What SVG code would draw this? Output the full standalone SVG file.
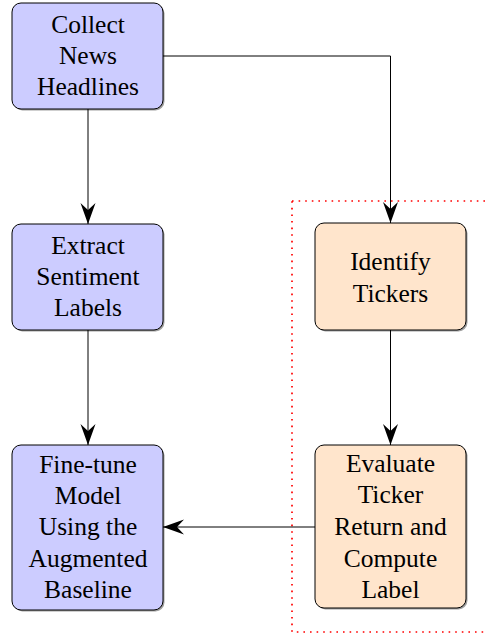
<svg xmlns="http://www.w3.org/2000/svg" width="487" height="638" viewBox="0 0 487 638">
  <style>
    .box { stroke: #000; stroke-width: 1; }
    .blue { fill: #ccccff; }
    .orange { fill: #ffe5cc; }
    .shadow { fill: #777; opacity: 0.7; }
    text { font-family: 'Times New Roman', Times, 'Liberation Serif', 'DejaVu Serif', 'Noto Serif', serif; font-size: 25.5px; fill: #000; text-anchor: middle; }
    .edge { fill: none; stroke: #000; stroke-width: 1; }
    .group { fill: none; stroke: #ff0000; stroke-width: 1.7; stroke-dasharray: 1.6 5; }
  </style>
  <defs>
    <marker id="arr" markerUnits="userSpaceOnUse" markerWidth="24" markerHeight="18" viewBox="-22 -9 24 18" refX="0" refY="0" orient="auto">
      <path d="M0,0 L-21,-7.5 L-14,0 L-21,7.5 Z" fill="#000"/>
    </marker>
  </defs>

  <rect class="group" x="292" y="201" width="220" height="431"/>

  <g id="collect">
    <rect class="shadow" x="13.5" y="4.5" width="151" height="106" rx="9"/>
    <rect class="box blue" x="12" y="3" width="151" height="106" rx="9"/>
    <text x="88" y="33">Collect</text>
    <text x="88" y="64">News</text>
    <text x="88" y="95">Headlines</text>
  </g>

  <g id="extract">
    <rect class="shadow" x="13.5" y="225.5" width="151" height="106" rx="9"/>
    <rect class="box blue" x="12" y="224" width="151" height="106" rx="9"/>
    <text x="88" y="254">Extract</text>
    <text x="88" y="285">Sentiment</text>
    <text x="88" y="316">Labels</text>
  </g>

  <g id="finetune">
    <rect class="shadow" x="13.5" y="446.5" width="151" height="165" rx="9"/>
    <rect class="box blue" x="12" y="445" width="151" height="165" rx="9"/>
    <text x="88" y="473">Fine-tune</text>
    <text x="88" y="504">Model</text>
    <text x="88" y="535">Using the</text>
    <text x="88" y="567">Augmented</text>
    <text x="88" y="598">Baseline</text>
  </g>

  <g id="identify">
    <rect class="shadow" x="316.5" y="224.5" width="151" height="107" rx="9"/>
    <rect class="box orange" x="315" y="223" width="151" height="107" rx="9"/>
    <text x="390.5" y="270">Identify</text>
    <text x="390.5" y="302">Tickers</text>
  </g>

  <g id="evaluate">
    <rect class="shadow" x="316.5" y="446.5" width="151" height="163" rx="9"/>
    <rect class="box orange" x="315" y="445" width="151" height="163" rx="9"/>
    <text x="390.5" y="472">Evaluate</text>
    <text x="390.5" y="503">Ticker</text>
    <text x="390.5" y="535">Return and</text>
    <text x="390.5" y="567">Compute</text>
    <text x="390.5" y="598">Label</text>
  </g>

  <g id="connectors">
    <path class="edge" d="M88,109 L88,224" marker-end="url(#arr)"/>
    <path class="edge" d="M163,56 L390.5,56 L390.5,223" marker-end="url(#arr)"/>
    <path class="edge" d="M88,330 L88,445" marker-end="url(#arr)"/>
    <path class="edge" d="M390.5,330 L390.5,445" marker-end="url(#arr)"/>
    <path class="edge" d="M315,527 L163,527" marker-end="url(#arr)"/>
  </g>
</svg>
